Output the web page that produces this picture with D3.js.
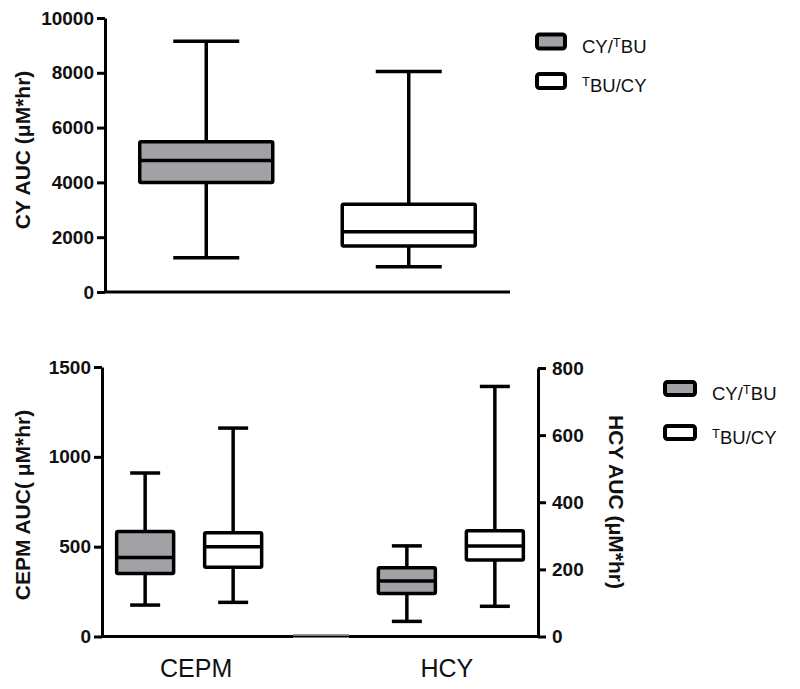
<!DOCTYPE html>
<html><head><meta charset="utf-8">
<script src="https://cdn.jsdelivr.net/npm/d3@7"></script>
<style>
body{margin:0;background:#fff;}
text{font-family:"Liberation Sans",Arial,sans-serif;}
</style></head>
<body><svg id="c" width="800" height="689"></svg>
<script>
// ---------- data ----------
const seriesKeys = ["CY/TBU", "TBU/CY"];
const seriesFill = ["#a2a2a6", "#ffffff"];

// top panel: CY AUC
const topMin    = [1250, 920];
const topQ1     = [4000, 1680];
const topMedian = [4800, 2200];
const topQ3     = [5480, 3200];
const topMax    = [9150, 8050];
const topTicks  = [0, 2000, 4000, 6000, 8000, 10000];

// bottom panel categories
const bottomCategories = ["CEPM", "HCY"];
// CEPM (left axis)
const cepmMin    = [175, 190];
const cepmQ1     = [350, 385];
const cepmMedian = [440, 500];
const cepmQ3     = [585, 578];
const cepmMax    = [910, 1160];
// HCY (right axis)
const hcyMin    = [45, 90];
const hcyQ1     = [128, 228];
const hcyMedian = [165, 270];
const hcyQ3     = [205, 315];
const hcyMax    = [270, 745];
const leftTicks  = [0, 500, 1000, 1500];
const rightTicks = [0, 200, 400, 600, 800];

// ---------- drawing ----------
const svg = d3.select("#c");
const SW = 3.5;

function drawBox(g, cx, w, capW, y, s, fill) {
  g.append("line").attr("x1", cx).attr("x2", cx).attr("y1", y(s.max)).attr("y2", y(s.q3))
    .attr("stroke", "#000").attr("stroke-width", SW);
  g.append("line").attr("x1", cx).attr("x2", cx).attr("y1", y(s.q1)).attr("y2", y(s.min))
    .attr("stroke", "#000").attr("stroke-width", SW);
  g.append("line").attr("x1", cx - capW / 2).attr("x2", cx + capW / 2).attr("y1", y(s.max)).attr("y2", y(s.max))
    .attr("stroke", "#000").attr("stroke-width", SW);
  g.append("line").attr("x1", cx - capW / 2).attr("x2", cx + capW / 2).attr("y1", y(s.min)).attr("y2", y(s.min))
    .attr("stroke", "#000").attr("stroke-width", SW);
  g.append("rect").attr("x", cx - w / 2).attr("width", w)
    .attr("y", y(s.q3)).attr("height", y(s.q1) - y(s.q3))
    .attr("rx", 1.5)
    .attr("fill", fill).attr("stroke", "#000").attr("stroke-width", SW);
  g.append("line").attr("x1", cx - w / 2).attr("x2", cx + w / 2).attr("y1", y(s.median)).attr("y2", y(s.median))
    .attr("stroke", "#000").attr("stroke-width", SW);
}

function seriesLabel(t, key, supFs) {
  if (key === "CY/TBU") {
    t.append("tspan").text("CY/");
    t.append("tspan").text("T").attr("font-size", supFs).attr("dy", -6);
    t.append("tspan").text("BU").attr("dy", 6);
  } else {
    t.append("tspan").text("T").attr("font-size", supFs).attr("dy", -6);
    t.append("tspan").text("BU/CY").attr("dy", 6);
  }
}

function legend(x, ys, bw, bh) {
  seriesKeys.forEach((k, i) => {
    svg.append("rect").attr("x", x).attr("y", ys[i] - bh / 2).attr("width", bw).attr("height", bh)
      .attr("rx", 2.5).attr("fill", seriesFill[i]).attr("stroke", "#000").attr("stroke-width", 4);
    const t = svg.append("text").attr("x", x + bw + 17).attr("y", ys[i] + 11)
      .attr("font-size", 18.5).attr("fill", "#111");
    seriesLabel(t, k, 13);
  });
}

function styleAxis(g) {
  g.selectAll("path.domain").attr("stroke", "#000").attr("stroke-width", 3);
  g.selectAll(".tick line").attr("stroke", "#000").attr("stroke-width", 3);
  g.selectAll(".tick text").attr("font-size", 19).attr("font-weight", "bold")
    .attr("font-family", "'Liberation Sans',Arial,sans-serif").attr("fill", "#111");
}

// ===== top panel =====
const topX = d3.scalePoint().domain(seriesKeys).range([105, 510]).padding(0.5);
const topY = d3.scaleLinear().domain([0, 10000]).range([292, 18]);

const gTopAxis = svg.append("g").attr("transform", "translate(105,0)")
  .call(d3.axisLeft(topY).tickValues(topTicks).tickFormat(d3.format("d")).tickSize(8).tickSizeOuter(0).tickPadding(3));
styleAxis(gTopAxis);
svg.append("line").attr("x1", 104).attr("x2", 510).attr("y1", topY(0)).attr("y2", topY(0))
  .attr("stroke", "#000").attr("stroke-width", 3);

const gTop = svg.append("g");
seriesKeys.forEach((k, i) => {
  drawBox(gTop, topX(k), 133, 66, topY,
    {min: topMin[i], q1: topQ1[i], median: topMedian[i], q3: topQ3[i], max: topMax[i]}, seriesFill[i]);
});

svg.append("text").attr("transform", "translate(30,150) rotate(-90)")
  .attr("text-anchor", "middle").attr("font-size", 21).attr("font-weight", "bold").attr("fill", "#111")
  .text("CY AUC (\u03bcM*hr)");

legend(537, [41.5, 81], 28, 14);

// ===== bottom panel =====
const xL = 102, xR = 538;
const botX = d3.scalePoint().domain(bottomCategories).range([xL, xR]).padding(0.333);
const subX = d3.scalePoint().domain(seriesKeys).range([-44, 44]);
const leftY = d3.scaleLinear().domain([0, 1500]).range([636.5, 367]);
const rightY = d3.scaleLinear().domain([0, 800]).range([636.5, 368]);

const gL = svg.append("g").attr("transform", `translate(${xL},0)`)
  .call(d3.axisLeft(leftY).tickValues(leftTicks).tickFormat(d3.format("d")).tickSize(8).tickSizeOuter(0).tickPadding(3));
styleAxis(gL);
const gR = svg.append("g").attr("transform", `translate(${xR},0)`)
  .call(d3.axisRight(rightY).tickValues(rightTicks).tickFormat(d3.format("d")).tickSize(8).tickSizeOuter(0).tickPadding(6));
styleAxis(gR);

svg.append("line").attr("x1", xL - 1).attr("x2", 293).attr("y1", leftY(0)).attr("y2", leftY(0))
  .attr("stroke", "#000").attr("stroke-width", 3);
svg.append("line").attr("x1", 293).attr("x2", 349).attr("y1", leftY(0)).attr("y2", leftY(0))
  .attr("stroke", "#000").attr("stroke-width", 2);
svg.append("line").attr("x1", 293).attr("x2", 349).attr("y1", leftY(0) - 1.5).attr("y2", leftY(0) - 1.5)
  .attr("stroke", "#777").attr("stroke-width", 1.5);
svg.append("line").attr("x1", 349).attr("x2", xR + 1).attr("y1", leftY(0)).attr("y2", leftY(0))
  .attr("stroke", "#000").attr("stroke-width", 3);

const gB = svg.append("g");
seriesKeys.forEach((k, i) => {
  drawBox(gB, botX("CEPM") + subX(k), 57, 30, leftY,
    {min: cepmMin[i], q1: cepmQ1[i], median: cepmMedian[i], q3: cepmQ3[i], max: cepmMax[i]}, seriesFill[i]);
  drawBox(gB, botX("HCY") + subX(k), 57, 30, rightY,
    {min: hcyMin[i], q1: hcyQ1[i], median: hcyMedian[i], q3: hcyQ3[i], max: hcyMax[i]}, seriesFill[i]);
});

svg.selectAll("text.xcat").data(bottomCategories).join("text").attr("class", "xcat")
  .attr("x", d => botX(d) + (d === "CEPM" ? 7 : -4)).attr("y", 677)
  .attr("text-anchor", "middle").attr("font-size", 25).attr("fill", "#111").text(d => d);

svg.append("text").attr("transform", "translate(30,505) rotate(-90)")
  .attr("text-anchor", "middle").attr("font-size", 21).attr("font-weight", "bold").attr("fill", "#111")
  .text("CEPM AUC( \u03bcM*hr)");
svg.append("text").attr("transform", "translate(609,502) rotate(90)")
  .attr("text-anchor", "middle").attr("font-size", 21).attr("font-weight", "bold").attr("fill", "#111")
  .text("HCY AUC (\u03bcM*hr)");

legend(665, [388.5, 432.5], 30, 13);
</script></body></html>
